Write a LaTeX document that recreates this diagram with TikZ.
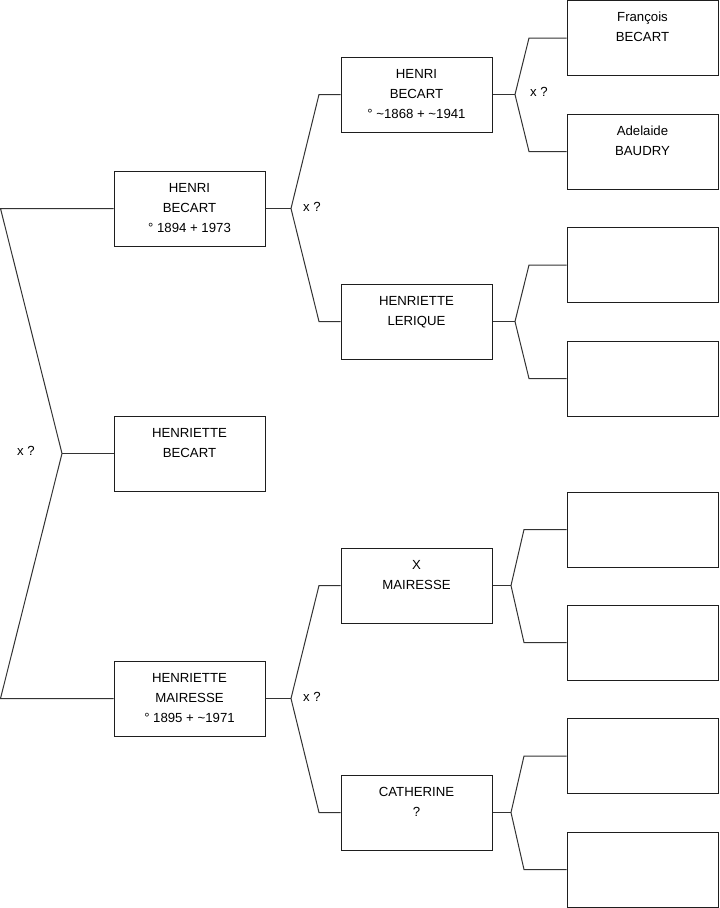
\documentclass[tikz,border=0pt]{standalone}
\usepackage{fontspec}
\setmainfont{Liberation Sans}
\definecolor{boxdraw}{HTML}{1E1E1E}
\definecolor{linkdraw}{HTML}{333333}
\newcommand{\toplines}[1]{\parbox[c][56.25pt][t]{113.25pt}{\centering\rule{0pt}{15.8pt}#1}}
\tikzset{
  personbox/.style={
    draw=boxdraw,
    line width=0.75pt,
    fill=white,
    minimum width=113.25pt,
    minimum height=56.25pt,
    inner sep=0pt,
    font=\fontsize{9.9}{15}\selectfont,
  },
  link/.style={draw=linkdraw, line width=0.75pt, line join=miter},
  marklabel/.style={font=\fontsize{9.9}{11}\selectfont, inner sep=1pt},
}
\begin{document}
\begin{tikzpicture}[x=0.75pt, y=-0.75pt]
  \useasboundingbox[fill=white] (0,0) rectangle (719,908);

  % generation 1
  \node[personbox] (father) at (189.5, 208.5) {\toplines{HENRI\\BECART\\° 1894 + 1973}};
  \node[personbox] (root) at (189.5, 453.5) {\toplines{HENRIETTE\\BECART}};
  \node[personbox] (mother) at (189.5, 698.5) {\toplines{HENRIETTE\\MAIRESSE\\° 1895 + \textasciitilde 1971}};

  % generation 2
  \node[personbox] (ff) at (416.5, 94.5) {\toplines{HENRI\\BECART\\° \textasciitilde 1868 + \textasciitilde 1941}};
  \node[personbox] (fm) at (416.5, 321.5) {\toplines{HENRIETTE\\LERIQUE}};
  \node[personbox] (mf) at (416.5, 585.5) {\toplines{X\\MAIRESSE}};
  \node[personbox] (mm) at (416.5, 812.5) {\toplines{CATHERINE\\?}};

  % generation 3
  \node[personbox] (fff) at (642.5, 38) {\toplines{François\\BECART}};
  \node[personbox] (ffm) at (642.5, 151.5) {\toplines{Adelaide\\BAUDRY}};
  \node[personbox] (fmf) at (642.5, 265) {};
  \node[personbox] (fmm) at (642.5, 378.5) {};
  \node[personbox] (mff) at (642.5, 529.5) {};
  \node[personbox] (mfm) at (642.5, 642.5) {};
  \node[personbox] (mmf) at (642.5, 756) {};
  \node[personbox] (mmm) at (642.5, 869.5) {};

  % root fork
  \coordinate (root-j) at (62, 453.5);
  \coordinate (root-t) at (0.5, 208.5);
  \coordinate (root-b) at (0.5, 698.5);
  \draw[link] (father.west) -- (root-t) -- (root-j) -- (root-b) -- (mother.west);
  \draw[link] (root-j) -- (root.west);

  % parent forks
  \foreach \p/\a/\b/\jx/\cx in {father/ff/fm/291/319, mother/mf/mm/291/319,
      ff/fff/ffm/515/529, fm/fmf/fmm/515/529, mf/mff/mfm/511/524, mm/mmf/mmm/511/524} {
    \coordinate (\p-j) at (\jx,0 |- \p.east);
    \draw[link] (\p.east) -- (\p-j);
    \draw[link] (\a.west) -- (\cx,0 |- \a.west) -- (\p-j) -- (\cx,0 |- \b.west) -- (\b.west);
  }

  \node[marklabel] (mark-root) at (26, 451) {x ?};
  \node[marklabel] (mark-father) at (312, 206.5) {x ?};
  \node[marklabel] (mark-mother) at (312, 697) {x ?};
  \node[marklabel] (mark-ff) at (539, 92) {x ?};
\end{tikzpicture}
\end{document}
